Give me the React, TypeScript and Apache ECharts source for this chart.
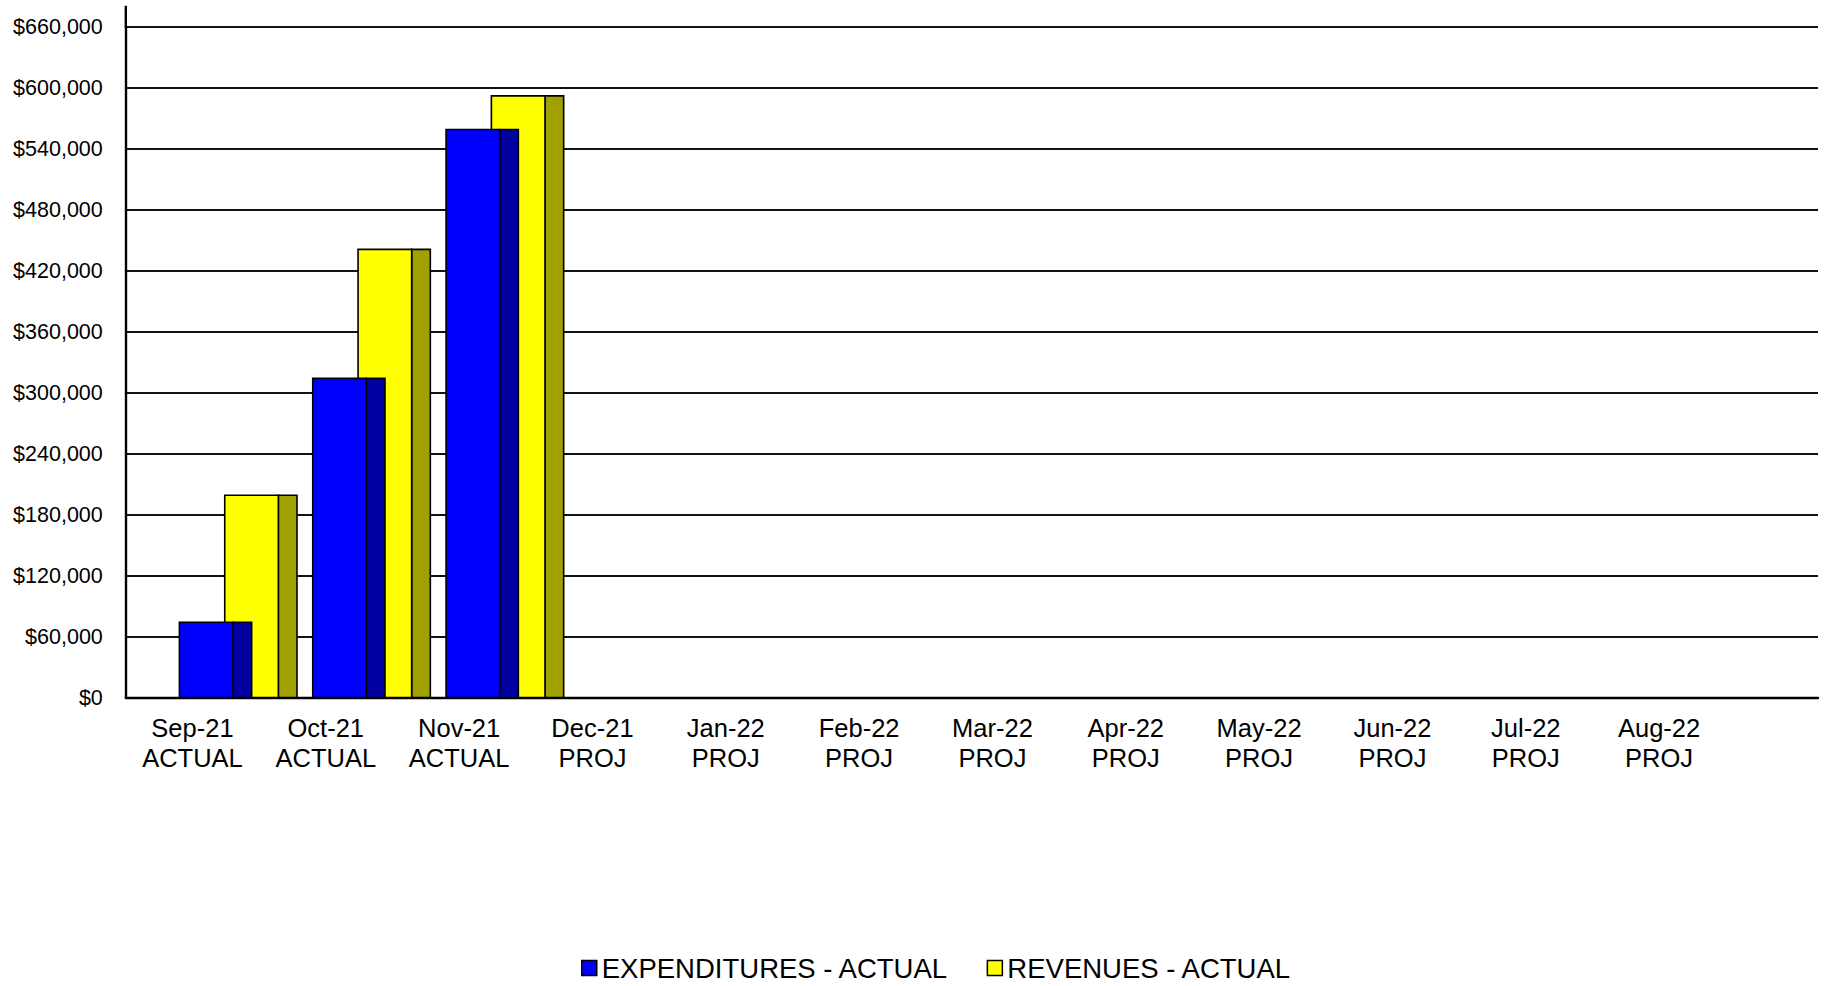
import React, { useEffect, useRef } from "react";
import * as echarts from "echarts";

// Monthly periods and their status line
const months = ["Sep-21", "Oct-21", "Nov-21", "Dec-21", "Jan-22", "Feb-22", "Mar-22", "Apr-22", "May-22", "Jun-22", "Jul-22", "Aug-22"];
const status = ["ACTUAL", "ACTUAL", "ACTUAL", "PROJ", "PROJ", "PROJ", "PROJ", "PROJ", "PROJ", "PROJ", "PROJ", "PROJ"];

// Series values (null = no figure yet)
const expenditures: (number | null)[] = [74000, 314000, 559000, null, null, null, null, null, null, null, null, null];
const revenues: (number | null)[] = [199000, 441000, 592000, null, null, null, null, null, null, null, null, null];

// Value axis ticks
const yMin = 0;
const yMax = 660000;
const yStep = 60000;

const FONT = "'Liberation Sans', Arial, Helvetica, sans-serif";

// Bar geometry as fractions of a category band (front face + shaded side face)
const FRONT_W = 0.402;
const SIDE_W = 0.14;

function makeRender(front: string, side: string, offset: number) {
  return (_params: any, api: any) => {
    const idx = api.value(0);
    const top = api.coord([idx, api.value(1)]);
    const base = api.coord([idx, 0]);
    const band = api.size([1, 0])[0];
    const x = top[0] - band / 2 + offset * band;
    const fw = FRONT_W * band;
    const sw = SIDE_W * band;
    const h = base[1] - top[1];
    return {
      type: "group",
      children: [
        {
          type: "rect",
          shape: { x: x + fw, y: top[1], width: sw, height: h },
          style: { fill: side, stroke: "#000", lineWidth: 1.6 },
        },
        {
          type: "rect",
          shape: { x, y: top[1], width: fw, height: h },
          style: { fill: front, stroke: "#000", lineWidth: 1.6 },
        },
      ],
    };
  };
}

const toPoints = (vals: (number | null)[]) =>
  vals.map((v, i) => [i, v]).filter((p) => p[1] !== null);

export default function App() {
  const ref = useRef<HTMLDivElement>(null);

  useEffect(() => {
    if (!ref.current) return;
    const chart = echarts.init(ref.current, undefined, { renderer: "svg" });
    const categories = months.map((m, i) => `${m}\n${status[i]}`);

    const plotLeft = 125.8;
    const plotTop = 26.8;
    const plotBottom = 697.5;
    const bandW = 133.33;

    chart.setOption({
      animation: false,
      backgroundColor: "#fff",
      textStyle: { fontFamily: FONT },
      grid: [
        {
          left: plotLeft,
          top: plotTop,
          width: bandW * months.length,
          height: plotBottom - plotTop,
        },
        {
          left: plotLeft,
          top: plotTop,
          width: 1818 - plotLeft,
          height: plotBottom - plotTop,
        },
      ],
      xAxis: [
        {
          type: "category",
          gridIndex: 0,
          data: categories,
          axisLine: { show: false },
          axisTick: { show: false },
          axisLabel: {
            color: "#000",
            fontFamily: FONT,
            fontSize: 25.5,
            lineHeight: 30,
            margin: 15,
            interval: 0,
          },
        },
        {
          type: "value",
          gridIndex: 1,
          min: 0,
          max: 1,
          axisLine: { show: true, onZero: false, lineStyle: { color: "#000", width: 2.4 } },
          axisTick: { show: false },
          axisLabel: { show: false },
          splitLine: { show: false },
        },
      ],
      yAxis: [
        {
          type: "value",
          gridIndex: 0,
          min: yMin,
          max: yMax,
          interval: yStep,
          axisLine: { show: true, lineStyle: { color: "#000", width: 2.4 } },
          axisTick: { show: false },
          splitLine: { show: false },
          axisLabel: {
            color: "#000",
            fontFamily: FONT,
            fontSize: 21.5,
            margin: 23,
            formatter: (v: number) => "$" + v.toLocaleString("en-US"),
          },
        },
        {
          type: "value",
          gridIndex: 1,
          min: yMin,
          max: yMax,
          interval: yStep,
          axisLine: { show: false },
          axisTick: { show: false },
          axisLabel: { show: false },
          splitLine: { show: true, lineStyle: { color: "#111", width: 2 } },
        },
      ],
      legend: {
        left: 576,
        top: 949,
        itemWidth: 15,
        itemHeight: 15,
        itemGap: 38,
        icon: "rect",
        textStyle: { color: "#000", fontFamily: FONT, fontSize: 27.5 },
        data: [
          { name: "EXPENDITURES - ACTUAL", itemStyle: { color: "#0000FF", borderColor: "#000", borderWidth: 1.5 } },
          { name: "REVENUES - ACTUAL", itemStyle: { color: "#FFFF00", borderColor: "#000", borderWidth: 1.5 } },
        ],
      },
      graphic: [
        {
          type: "line",
          shape: { x1: plotLeft, y1: 5.8, x2: plotLeft, y2: plotTop + 1 },
          style: { stroke: "#000", lineWidth: 2.4 },
        },
      ],
      series: [
        {
          name: "EXPENDITURES - ACTUAL",
          type: "custom",
          xAxisIndex: 0,
          yAxisIndex: 0,
          z: 4,
          itemStyle: { color: "#0000FF" },
          encode: { x: 0, y: 1 },
          renderItem: makeRender("#0000FF", "#0000A0", 0.402),
          data: toPoints(expenditures),
        },
        {
          name: "REVENUES - ACTUAL",
          type: "custom",
          xAxisIndex: 0,
          yAxisIndex: 0,
          z: 3,
          itemStyle: { color: "#FFFF00" },
          encode: { x: 0, y: 1 },
          renderItem: makeRender("#FFFF00", "#A0A000", 0.742),
          data: toPoints(revenues),
        },
      ],
    });

    return () => chart.dispose();
  }, []);

  return (
    <div
      ref={ref}
      style={{ position: "fixed", left: 0, top: 0, width: 1826, height: 986, background: "#fff" }}
    />
  );
}
